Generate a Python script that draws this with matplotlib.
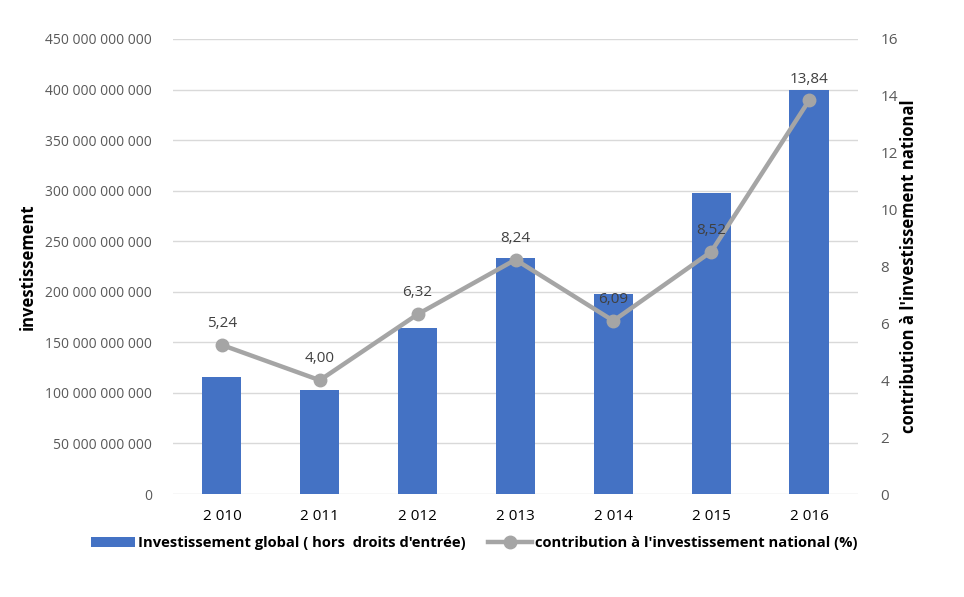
import matplotlib
matplotlib.use("Agg")
import matplotlib.pyplot as plt
import numpy as np
from matplotlib.ticker import FuncFormatter, MultipleLocator

years = ["2 010", "2 011", "2 012", "2 013", "2 014", "2 015", "2 016"]
investissement = [115.7e9, 102.5e9, 163.9e9, 233.7e9, 198.1e9, 297.7e9, 399.6e9]
contribution = [5.24, 4.00, 6.32, 8.24, 6.09, 8.52, 13.84]
contribution_labels = ["5,24", "4,00", "6,32", "8,24", "6,09", "8,52", "13,84"]

plt.rcParams['font.family'] = ['Open Sans', 'DejaVu Sans']

fig = plt.figure(figsize=(9.64, 5.97), dpi=100)
ax = fig.add_axes([173/964, 103/597, 685/964, 455/597])
x = np.arange(len(years))
ax.bar(x, investissement, width=0.4, color='#4472C4', zorder=2,
       label="Investissement global ( hors  droits d'entrée)")
ax.set_xlim(-0.5, len(years) - 0.5)
ax.set_ylim(0, 450e9)
ax.yaxis.set_major_locator(MultipleLocator(50e9))
ax.yaxis.set_major_formatter(FuncFormatter(lambda v, p: f"{int(round(v)):,}".replace(",", " ")))
ax.grid(axis='y', color='#D9D9D9', linewidth=1, zorder=0)
for s in ax.spines.values():
    s.set_visible(False)
ax.tick_params(axis='both', length=0, colors='#595959', labelsize=10)
ax.tick_params(axis='y', pad=15)
ax.set_xticks(x)
ax.set_xticklabels(years, fontsize=11, color='#000000')
ax.tick_params(axis='x', pad=11)
ax.set_ylabel("investissement", fontsize=12, fontweight='bold', color='black', labelpad=6)

ax2 = ax.twinx()
ax2.set_ylim(0, 16)
ax2.yaxis.set_major_locator(MultipleLocator(2))
for s in ax2.spines.values():
    s.set_visible(False)
ax2.tick_params(axis='y', length=0, colors='#595959', labelsize=11, pad=16)
line, = ax2.plot(x, contribution, color='#A5A5A5', linewidth=3.2, marker='o', markersize=9,
                 zorder=3, label="contribution à l'investissement national (%)")
for xi, v, lab in zip(x, contribution, contribution_labels):
    ax2.annotate(lab, (xi, v), xytext=(0, 10), textcoords='offset points', ha='center', va='bottom',
                 fontsize=11, color='#404040')
ax2.set_ylabel("contribution à l'investissement national", fontsize=12, fontweight='bold',
               color='black', labelpad=2)

h1, l1 = ax.get_legend_handles_labels()
h2, l2 = ax2.get_legend_handles_labels()
fig.legend(h1 + h2, l1 + l2, loc='center', bbox_to_anchor=(474/964, 1 - 543/597), ncol=2,
           frameon=False, prop={'weight': 'bold', 'size': 10.6},
           handlelength=3, columnspacing=1.5, handletextpad=0.2)

fig.savefig("out.png", dpi=100)
